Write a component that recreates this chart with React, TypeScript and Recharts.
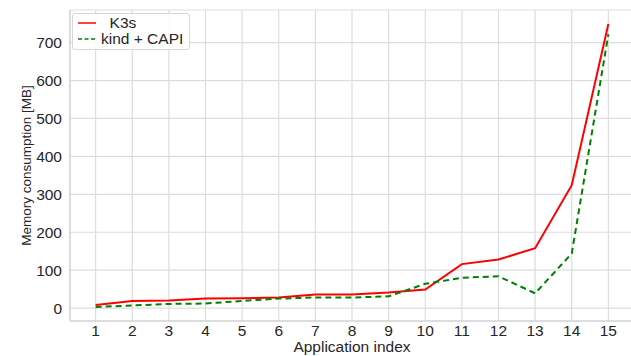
import { LineChart, Line, XAxis, YAxis, CartesianGrid, Label } from 'recharts'

// ── Data ─────────────────────────────────────────────────────────
const appIndex = [1, 2, 3, 4, 5, 6, 7, 8, 9, 10, 11, 12, 13, 14, 15]
const k3sMem = [8, 19, 20, 25, 26, 28, 36, 36, 41, 49, 116, 128, 158, 324, 749]
const kindCapiMem = [3, 7, 11, 12, 19, 25, 28, 28, 31, 64, 80, 84, 39, 144, 722]
const yTicks = [0, 100, 200, 300, 400, 500, 600, 700]

const data = appIndex.map((x, i) => ({ x, k3s: k3sMem[i], kind: kindCapiMem[i] }))

const FONT = '"Liberation Sans", Arial, sans-serif'
const TEXT = '#262626'
const GRID = '#dddddd'

// legend drawn over the plot, like matplotlib's loc='upper left'
const LegendBox = () => (
  <div style={{
    position: 'absolute', left: 72, top: 13,
    background: 'rgba(255,255,255,0.85)', border: '1px solid #d6d6d6', borderRadius: 3,
    padding: '1px 6px 2px 3px', fontFamily: FONT, fontSize: 15.5, color: TEXT, lineHeight: '16px',
  }}>
    {[
      { label: '  K3s', color: '#ff0000', dash: undefined },
      { label: 'kind + CAPI', color: '#008000', dash: '4 2.5' },
    ].map(it => (
      <div key={it.label} style={{ display: 'flex', alignItems: 'center', whiteSpace: 'pre' }}>
        <svg width={22} height={16} style={{ marginRight: 3 }}>
          <line x1={2} x2={20} y1={8} y2={8} stroke={it.color} strokeWidth={1.5} strokeDasharray={it.dash} />
        </svg>
        <span>{it.label}</span>
      </div>
    ))}
  </div>
)

export default function App() {
  return (
    <div style={{ position: 'absolute', left: 0, top: 0, width: 631, height: 356, overflow: 'hidden', background: '#fff' }}>
      <LineChart width={634} height={356} data={data} margin={{ top: 10, right: 0, bottom: 0, left: 0 }}>
        <CartesianGrid stroke={GRID} strokeWidth={1.2} />
        <XAxis
          dataKey="x" type="number" domain={[0.3, 15.7]} ticks={appIndex} allowDataOverflow
          height={35} tickLine={false} tickSize={0} tickMargin={4}
          axisLine={{ stroke: '#cccccc' }}
          tick={{ fill: TEXT, fontSize: 15.5, fontFamily: FONT }}
        >
          <Label
            content={({ viewBox }: any) => (
              <text x={viewBox.x + viewBox.width / 2} y={viewBox.y + 31} textAnchor="middle"
                fill={TEXT} fontSize={15.5} fontFamily={FONT}>Application index</text>
            )}
          />
        </XAxis>
        <YAxis
          type="number" domain={[-34, 786]} ticks={yTicks} allowDataOverflow
          width={70} tickLine={false} tickSize={0} tickMargin={8}
          axisLine={{ stroke: '#cccccc' }}
          tick={{ fill: TEXT, fontSize: 15.5, fontFamily: FONT }}
        >
          <Label
            content={({ viewBox }: any) => {
              const cx = 26
              const cy = viewBox.y + viewBox.height / 2
              return (
                <text x={cx} y={cy} transform={`rotate(-90, ${cx}, ${cy})`} textAnchor="middle"
                  dominantBaseline="central" fill={TEXT} fontSize={13.5} fontFamily={FONT}>
                  Memory consumption [MB]
                </text>
              )
            }}
          />
        </YAxis>
        <Line type="linear" dataKey="k3s" name="K3s" stroke="#ff0000" strokeWidth={2} dot={false} isAnimationActive={false} />
        <Line type="linear" dataKey="kind" name="kind + CAPI" stroke="#008000" strokeWidth={2} strokeDasharray="6 4" dot={false} isAnimationActive={false} />
      </LineChart>
      <LegendBox />
    </div>
  )
}
